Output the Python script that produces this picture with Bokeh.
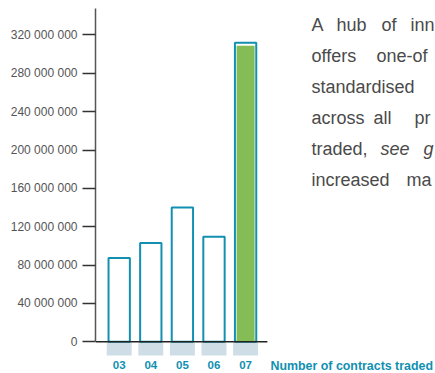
from bokeh.plotting import figure
from bokeh.models import Range1d, FixedTicker, Label, ColumnDataSource
from bokeh.core.properties import value
from bokeh.embed import file_html
from bokeh.resources import INLINE

# ---- data ----
years = ["03", "04", "05", "06", "07"]
contracts = [87_500_000, 103_000_000, 140_000_000, 109_500_000, 312_000_000]
highlight = [False, False, False, False, True]
y_ticks = [0, 40_000_000, 80_000_000, 120_000_000, 160_000_000,
           200_000_000, 240_000_000, 280_000_000, 320_000_000]
y_tick_labels = ["0", "40 000 000", "80 000 000", "120 000 000", "160 000 000",
                 "200 000 000", "240 000 000", "280 000 000", "320 000 000"]
x_title = "Number of contracts traded"

TEAL = "#1190b1"
GREEN = "#84bc55"
BAND = "#cfdde6"
GREY = "#555555"

idx = list(range(len(years)))
y_top = 347.6e6
y_bot = -33.06e6

p = figure(width=435, height=373, output_backend="svg", toolbar_location=None,
           x_range=Range1d(-0.75, 10.01), y_range=Range1d(y_bot, y_top),
           min_border_left=95, min_border_right=0, min_border_top=8,
           min_border_bottom=0, x_axis_location=None)
p.grid.visible = False
p.outline_line_color = None
p.background_fill_color = "white"

ax = p.yaxis[0]
ax.ticker = FixedTicker(ticks=y_ticks)
ax.major_label_overrides = dict(zip(y_ticks, y_tick_labels))
ax.bounds = (0, y_top)
ax.axis_line_color = GREY
ax.axis_line_width = 1.5
ax.major_tick_line_color = "#333333"
ax.major_tick_line_width = 1.5
ax.major_tick_out = 13
ax.major_tick_in = 0
ax.minor_tick_line_color = None
ax.major_label_standoff = 5
ax.major_label_text_font = "Liberation Sans"
ax.major_label_text_font_size = "12px"
ax.major_label_text_color = GREY

src = ColumnDataSource(dict(x=idx, top=contracts, label=years))

# bands under the axis
p.vbar(x="x", top=-0.7e6, bottom=-14.3e6, width=0.79, source=src,
       fill_color=BAND, line_color=None)

# outlined bars
p.vbar(x="x", top="top", bottom=0, width=0.675, source=src,
       fill_color="white", line_color=TEAL, line_width=2)

# highlighted bar fill
hx = [i for i, h in zip(idx, highlight) if h]
ht = [v - 3.2e6 for v, h in zip(contracts, highlight) if h]
p.vbar(x=hx, top=ht, bottom=0, width=0.57, fill_color=GREEN, line_color=None)

# baseline
p.segment(x0=[-0.75], y0=[0], x1=[len(years) - 1 + 0.69], y1=[0],
          line_color="#222222", line_width=1.5)

# category labels
p.text(x="x", y=-24.7e6, text="label", source=src, text_align="center",
       text_baseline="middle", text_color=TEAL, text_font=value("Liberation Sans"),
       text_font_size="11.5px", text_font_style="bold")

p.add_layout(Label(x=175, y=8, x_units="screen", y_units="screen", text=x_title,
                   text_baseline="middle", text_align="left", text_color=TEAL,
                   text_font="Liberation Sans", text_font_size="12.4px",
                   text_font_style="bold"))

# paragraph (justified text, cut by the right edge as in the source)
para = [
    (24, [(311, "A", "normal"), (336, "hub", "normal"), (381, "of", "normal"), (410, "inn", "normal")]),
    (55, [(311, "offers", "normal"), (376, "one-of", "normal")]),
    (86, [(311, "standardised", "normal")]),
    (117, [(311, "across", "normal"), (373, "all", "normal"), (414, "pr", "normal")]),
    (148, [(311, "traded,", "normal"), (380, "see", "italic"), (423, "g", "italic")]),
    (179, [(311, "increased", "normal"), (406, "ma", "normal")]),
]
for base, words in para:
    for sx, w, style in words:
        p.add_layout(Label(x=sx - 95, y=373 - base, x_units="screen", y_units="screen",
                           text=w, text_baseline="alphabetic", text_align="left",
                           text_color="#4a4a4a", text_font="Liberation Sans",
                           text_font_size="18px", text_font_style=style))

open("out.html", "w").write(file_html(p, INLINE))
